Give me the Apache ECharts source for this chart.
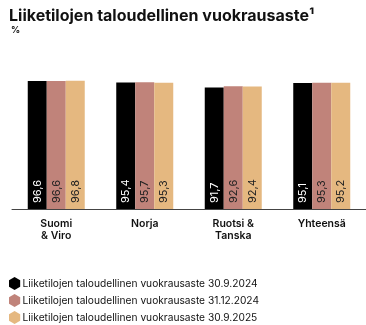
<!DOCTYPE html>
<html><head><meta charset="utf-8">
<script src="https://cdn.jsdelivr.net/npm/echarts@6/dist/echarts.min.js"></script>
<style>html,body{margin:0;padding:0;background:#fff}#c{width:366px;height:325px}</style>
</head><body><div id="c"></div>
<script>
const categories = ['Suomi\n& Viro', 'Norja', 'Ruotsi &\nTanska', 'Yhteensä'];
const seriesNames = ['Liiketilojen taloudellinen vuokrausaste 30.9.2024', 'Liiketilojen taloudellinen vuokrausaste 31.12.2024', 'Liiketilojen taloudellinen vuokrausaste 30.9.2025'];
const s2024q3 = [96.6, 95.4, 91.7, 95.1];
const s2024q4 = [96.6, 95.7, 92.6, 95.3];
const s2025q3 = [96.8, 95.3, 92.4, 95.2];
const colors = ['#000000', '#c0837a', '#e5b880'];
const labelColors = ['#ffffff', '#222222', '#222222'];
const hex = 'path://M50,0 L93,25 L93,75 L50,100 L7,75 L7,25 Z';
const font = 'Inter, "Noto Sans", sans-serif';
const chart = echarts.init(document.getElementById('c'));
const data = [s2024q3, s2024q4, s2025q3];
chart.setOption({
  animation: false,
  textStyle: {fontFamily: font},
  title: [
    {text: 'Liiketilojen taloudellinen vuokrausaste¹', left: 4, top: 3, textStyle: {fontSize: 16, fontWeight: 'bold', color: '#111', fontFamily: font}},
    {text: '%', left: 6, top: 21, textStyle: {fontSize: 9, fontWeight: 'bold', color: '#111', fontFamily: font}}
  ],
  legend: {
    orient: 'vertical', left: 4, top: 272, height: 60, itemGap: 4, itemWidth: 12, itemHeight: 13,
    icon: hex, textStyle: {fontSize: 10.2, color: '#111', fontFamily: font, padding: [0,0,0,-3]},
    data: seriesNames
  },
  grid: {left: 12, width: 367, top: 76.5, height: 132.5},
  xAxis: {
    type: 'category', data: categories,
    axisLine: {lineStyle: {color: '#444', width: 1}}, axisTick: {show: false},
    axisLabel: {fontSize: 10.5, fontWeight: 600, color: '#111', lineHeight: 12, margin: 9, fontFamily: font}
  },
  yAxis: {type: 'value', min: 0, max: 100, show: false, splitLine: {show: false}},
  series: data.map((d, i) => ({
    type: 'bar', name: seriesNames[i], data: d, barWidth: 19, barGap: '0%',
    itemStyle: {color: colors[i]},
    label: {
      show: true, position: 'insideBottom', rotate: 90, align: 'left', verticalAlign: 'middle',
      distance: 6, fontSize: 11, color: labelColors[i], fontFamily: font,
      formatter: p => p.value.toFixed(1).replace('.', ',')
    }
  }))
});
</script></body></html>
